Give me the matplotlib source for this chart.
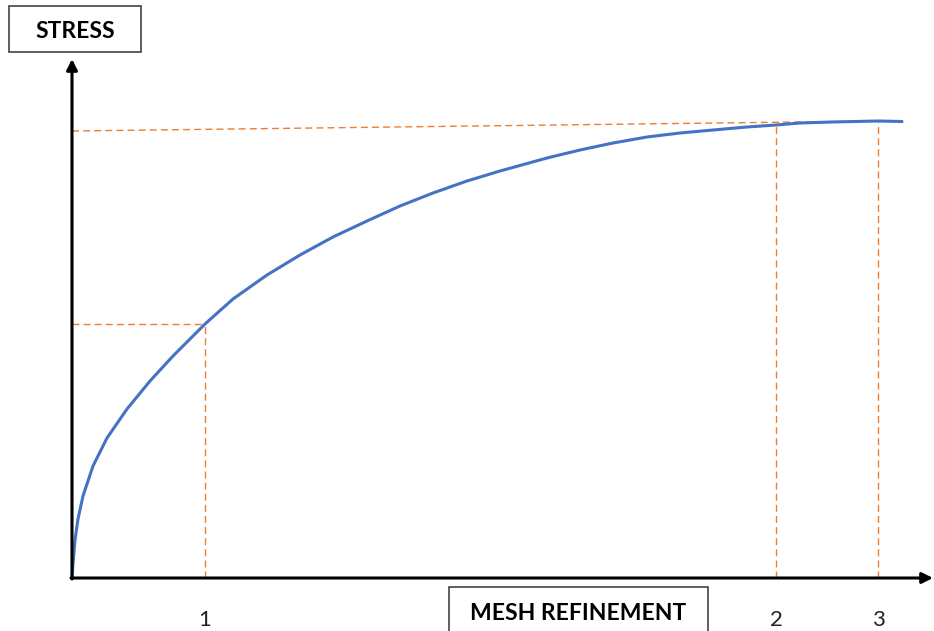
import matplotlib.pyplot as plt
from matplotlib.patches import Rectangle

# curve (origin at the axes corner, units ~ pixels)
refine = [0, 1, 3, 6, 11, 21, 35, 55, 78, 101, 133, 161, 195, 228, 261, 295,
          328, 361, 395, 428, 475, 508, 541, 575, 608, 641, 675, 704,
          728, 760, 806, 830]
stress = [0, 14, 38, 59, 82, 112, 140, 169, 197, 222, 254, 279, 303, 323,
          341, 357, 372, 385, 397, 407, 420, 428, 435, 441, 445, 448, 451,
          453, 455, 456, 457, 456.5]

# marked points 1, 2, 3
mark_x = [133, 704, 806]
mark_y = [254, 454, 457]
mark_labels = ['1', '2', '3']
top_guide_left = 447   # the upper dashed line is slightly tilted

plt.rcParams['font.family'] = ['Lato', 'DejaVu Sans']

fig = plt.figure(figsize=(9.34, 6.31), dpi=100)
ax = fig.add_axes([0, 0, 1, 1])
ax.set_xlim(-72, 862)
ax.set_ylim(-53, 578)
ax.axis('off')

orange = '#ED7D31'
blue = '#4472C4'
dash = (0, (5, 3))

# guide lines
ax.plot([0, mark_x[0]], [mark_y[0], mark_y[0]], ls=dash, color=orange, lw=1)
ax.plot([mark_x[0], mark_x[0]], [0, mark_y[0]], ls=dash, color=orange, lw=1)
ax.plot([0, mark_x[2]], [top_guide_left, mark_y[2]], ls=dash, color=orange, lw=1)
ax.plot([mark_x[1], mark_x[1]], [0, mark_y[1]], ls=dash, color=orange, lw=1)
ax.plot([mark_x[2], mark_x[2]], [0, mark_y[2]], ls=dash, color=orange, lw=1)

# curve
ax.plot(refine, stress, color=blue, lw=2.2, solid_capstyle='round', solid_joinstyle='round')

# axes with arrows
ax.annotate('', xy=(861, 0), xytext=(-1, 0),
            arrowprops=dict(arrowstyle='-|>', lw=2.2, color='black', mutation_scale=16, shrinkA=0, shrinkB=0))
ax.annotate('', xy=(0, 519), xytext=(0, -1),
            arrowprops=dict(arrowstyle='-|>', lw=2.2, color='black', mutation_scale=16, shrinkA=0, shrinkB=0))

for x, lab in zip(mark_x, mark_labels):
    ax.text(x, -42, lab, ha='center', va='center', fontsize=16, color='#222222')

# boxed labels
ax.add_patch(Rectangle((-63, 526), 132, 46, fill=False, lw=1.1, edgecolor='#333333'))
ax.text(3, 546, 'STRESS', ha='center', va='center', fontsize=16.5, fontweight='bold')
ax.add_patch(Rectangle((377, -60), 259, 51, fill=False, lw=1.1, edgecolor='#333333', clip_on=False))
ax.text(506, -36, 'MESH REFINEMENT', ha='center', va='center', fontsize=16.5, fontweight='bold')

fig.savefig('out.png', dpi=100)
